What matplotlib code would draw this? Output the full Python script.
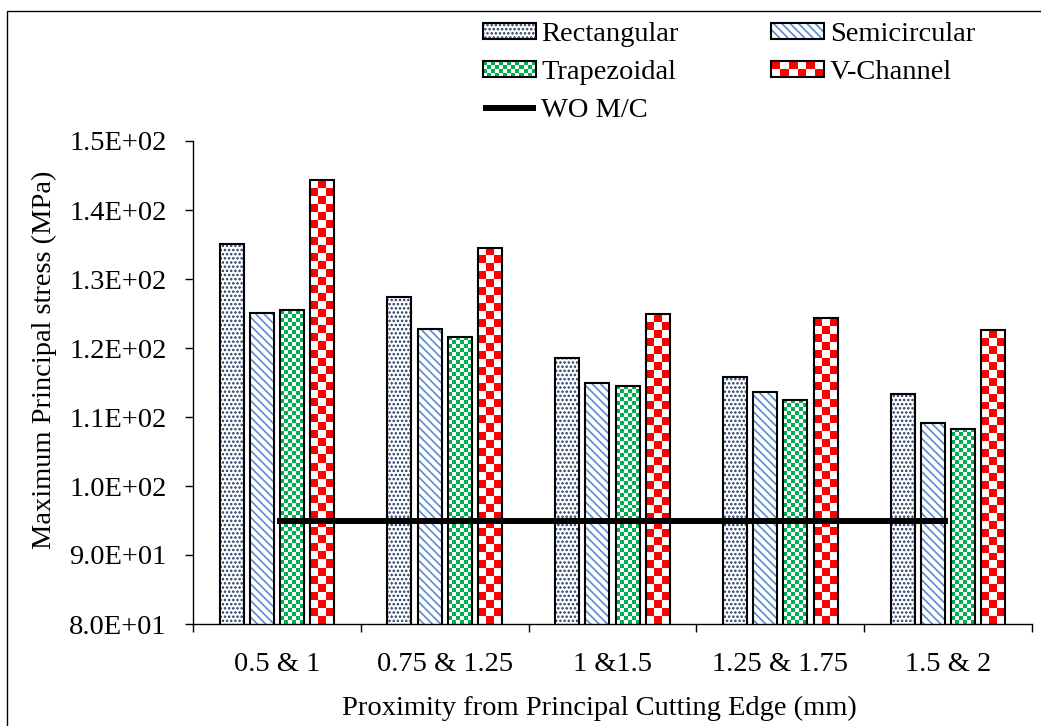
import numpy as np
import matplotlib.pyplot as plt
from matplotlib.patches import Rectangle
from matplotlib.colors import ListedColormap
from matplotlib.legend_handler import HandlerBase

plt.rcParams['font.family'] = ['Liberation Serif', 'DejaVu Serif']
plt.rcParams['hatch.linewidth'] = 1.2

# Data
categories = ['0.5 & 1', '0.75 & 1.25', '1 &1.5', '1.25 & 1.75', '1.5 & 2']
rectangular = [135.1, 127.4, 118.6, 115.8, 113.3]
semicircular = [125.1, 122.8, 114.9, 113.6, 109.1]
trapezoidal = [125.5, 121.6, 114.5, 112.5, 108.3]
v_channel = [144.3, 134.5, 124.9, 124.3, 122.6]
wo_mc = [95.0, 95.0, 95.0, 95.0, 95.0]
yticks = [80, 90, 100, 110, 120, 130, 140, 150]

series = [
    ('Rectangular', rectangular, dict(kind='hatch', color='#1F3864', hatch='....')),
    ('Semicircular', semicircular, dict(kind='hatch', color='#5B8BD0', hatch='\\\\\\\\')),
    ('Trapezoidal', trapezoidal, dict(kind='checker', color='#00B050', cell=4, rows=4)),
    ('V-Channel', v_channel, dict(kind='checker', color='#FF0000', cell=8, rows=2)),
]
offsets = [-0.27, -0.09, 0.09, 0.27]
width = 0.143
fs = 20.5

fig = plt.figure(figsize=(10.41, 7.26), dpi=100)
ax = fig.add_axes([193 / 1041, 102 / 726, 839 / 1041, 483 / 726])
ax.set_xlim(-0.5, 4.5)
ax.set_ylim(80, 150)

x = np.arange(len(categories))
ymin = 80


class SwatchHandler(HandlerBase):
    def __init__(self, style):
        super().__init__()
        self.style = style

    def create_artists(self, legend, orig_handle, xdescent, ydescent,
                       width, height, fontsize, trans):
        x0, y0 = -xdescent, -ydescent
        s = self.style
        arts = []
        if s['kind'] == 'hatch':
            arts.append(Rectangle((x0, y0), width, height, facecolor='white',
                                  edgecolor=s['color'], hatch=s['hatch'],
                                  lw=0, transform=trans))
        else:
            rows = s['rows']
            cell = height / rows
            cols = int(round(width / cell))
            cw = width / cols
            for i in range(rows):
                for j in range(cols):
                    if (i + j) % 2:
                        arts.append(Rectangle((x0 + j * cw, y0 + i * cell), cw, cell,
                                              facecolor=s['color'], lw=0,
                                              transform=trans))
        arts.append(Rectangle((x0, y0), width, height, fill=False,
                              edgecolor='black', lw=1.5, transform=trans))
        return arts


handles, labels, hmap = [], [], {}
for (name, vals, st), off in zip(series, offsets):
    pos = x + off
    if st['kind'] == 'hatch':
        ax.bar(pos, vals, width, color='white', edgecolor=st['color'],
               hatch=st['hatch'], linewidth=0, zorder=2)
    else:
        bars = ax.bar(pos, vals, width, color='white', linewidth=0, zorder=2)
        cmap = ListedColormap(['white', st['color']])
        for b in bars:
            x0, x1 = b.get_x(), b.get_x() + b.get_width()
            top = b.get_height()
            p0 = ax.transData.transform((x0, ymin))
            p1 = ax.transData.transform((x1, top))
            ncols = max(1, int(round((p1[0] - p0[0]) / st['cell'])))
            nrows = max(1, int(round((p1[1] - p0[1]) / st['cell'])))
            arr = np.add.outer(np.arange(nrows), np.arange(ncols)) % 2
            ax.imshow(arr, extent=(x0, x1, ymin, top), origin='lower', cmap=cmap,
                      vmin=0, vmax=1, interpolation='nearest', aspect='auto',
                      zorder=2.5)
    ax.bar(pos, vals, width, fill=False, edgecolor='black', linewidth=1.5, zorder=3)
    h = Rectangle((0, 0), 1, 1)
    handles.append(h)
    labels.append(name)
    hmap[h] = SwatchHandler(st)

line, = ax.plot(x, wo_mc, color='black', lw=4.3, solid_capstyle='butt', zorder=5)

ax.set_xlim(-0.5, 4.5)
ax.set_ylim(80, 150)

# axes styling
for side in ['top', 'right']:
    ax.spines[side].set_visible(False)
for side in ['left', 'bottom']:
    ax.spines[side].set_linewidth(1.0)
ax.set_yticks(yticks)
ax.set_yticklabels([f'{v:.1E}' for v in yticks])
ax.set_xticks(x)
ax.set_xticklabels(categories)
ax.set_xticks(np.arange(-0.5, 5, 1), minor=True)
ax.tick_params(axis='x', which='major', length=0, pad=20, labelsize=fs)
ax.tick_params(axis='x', which='minor', length=6, width=1, direction='out')
ax.tick_params(axis='y', length=6, width=1, direction='out', pad=13, labelsize=fs)

ax.set_xlabel('Proximity from Principal Cutting Edge (mm)', fontsize=fs)
ax.xaxis.set_label_coords(0.484, -0.149)
ax.set_ylabel('Maximum Principal stress (MPa)', fontsize=fs)
ax.yaxis.set_label_coords(-0.162, 0.547)

# legend: row-wise order in two columns
order = [0, 2, 4, 1, 3]
all_h = handles[:]
all_h.insert(4, line)
all_l = labels[:]
all_l.insert(4, 'WO M/C')
fig.legend([all_h[i] for i in order], [all_l[i] for i in order],
           handler_map=hmap, ncol=2, loc='upper left',
           bbox_to_anchor=(483 / 1041, 1 - 22 / 726), frameon=False,
           borderpad=0, borderaxespad=0, fontsize=fs, handlelength=1.85,
           handleheight=0.5, handletextpad=0.2, columnspacing=3.25,
           labelspacing=0.45)

# outer chart border (clipped at right and bottom)
fig.patches.append(Rectangle((7 / 1041, -0.5), 1.5, 1.5 - 11 / 726,
                             transform=fig.transFigure, fill=False,
                             edgecolor='black', lw=1.0))

fig.savefig('out.png', dpi=100)
